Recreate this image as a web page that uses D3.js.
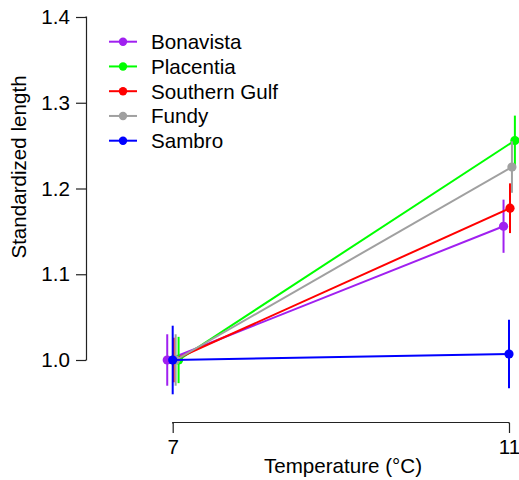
<!DOCTYPE html>
<html>
<head>
<meta charset="utf-8">
<script src="https://cdn.jsdelivr.net/npm/d3@7"></script>
<style>
  html, body { margin: 0; padding: 0; background: #fff; }
  svg { display: block; font-family: "Liberation Sans", Arial, sans-serif; }
</style>
</head>
<body>
<svg id="chart" width="519" height="480"></svg>
<script>
// ---- data ----
const temperatures = [7, 11];
const populations = ["Bonavista", "Placentia", "Southern Gulf", "Fundy", "Sambro"];
const colors = ["#A020F0", "#00FF00", "#FF0000", "#A0A0A0", "#0000FF"];
const meanBonavista = [1.000, 1.156];
const meanPlacentia = [1.000, 1.256];
const meanSouthernGulf = [1.000, 1.177];
const meanFundy = [1.000, 1.225];
const meanSambro = [1.000, 1.007];
const seBonavista = [0.030, 0.031];
const sePlacentia = [0.027, 0.029];
const seSouthernGulf = [0.026, 0.029];
const seFundy = [0.030, 0.030];
const seSambro = [0.040, 0.040];
// horizontal dodge (degrees) used to separate overlapping series
const dodge = [-0.065, 0.07, 0.012, 0.035, 0.0];
const yTicks = [1.0, 1.1, 1.2, 1.3, 1.4];

const means = [meanBonavista, meanPlacentia, meanSouthernGulf, meanFundy, meanSambro];
const ses = [seBonavista, sePlacentia, seSouthernGulf, seFundy, seSambro];

const series = populations.map((name, i) => ({
  name, color: colors[i],
  points: temperatures.map((t, j) => ({ t: t + dodge[i], m: means[i][j], se: ses[i][j] }))
}));

// ---- layout ----
const svg = d3.select("#chart");
const x = d3.scaleLinear().domain([7, 11]).range([172.7, 509]);
const y = d3.scaleLinear().domain([1.0, 1.4]).range([360, 17]);
const fontSize = 20.6;
const axisColor = "#222";

// Y axis
const yAxis = svg.append("g").attr("transform", "translate(86,0)")
  .call(d3.axisLeft(y).tickValues(yTicks).tickFormat(d3.format(".1f")).tickSize(10).tickPadding(6));
yAxis.select(".domain").attr("d", `M-0.5,${y(1.0)}H0.5V${y(1.4)}H-0.5`).attr("stroke", axisColor).attr("stroke-width", 1.2);
yAxis.selectAll(".tick line").attr("stroke", axisColor).attr("stroke-width", 1.2);
yAxis.selectAll(".tick text").attr("font-size", fontSize).attr("fill", "#000")
  .attr("font-family", "Liberation Sans, Arial, sans-serif");

// X axis
const xAxis = svg.append("g").attr("transform", "translate(0,423)")
  .call(d3.axisBottom(x).tickValues(temperatures).tickFormat(d3.format("d")).tickSize(10).tickPadding(6));
xAxis.select(".domain").attr("d", `M${x(7)},0.5V-0.5H${x(11)}V0.5`).attr("stroke", axisColor).attr("stroke-width", 1.2);
xAxis.selectAll(".tick line").attr("stroke", axisColor).attr("stroke-width", 1.2);
xAxis.selectAll(".tick text").attr("font-size", fontSize).attr("fill", "#000")
  .attr("font-family", "Liberation Sans, Arial, sans-serif");

// Axis titles
svg.append("text")
  .attr("x", 343).attr("y", 473)
  .attr("text-anchor", "middle").attr("font-size", fontSize).attr("fill", "#000")
  .text("Temperature (°C)");
svg.append("text")
  .attr("transform", "translate(26,167) rotate(-90)")
  .attr("text-anchor", "middle").attr("font-size", fontSize).attr("fill", "#000")
  .text("Standardized length");

// Series
const line = d3.line().x(d => x(d.t)).y(d => y(d.m));
const g = svg.append("g");
series.forEach(s => {
  const sg = g.append("g");
  sg.append("path").datum(s.points).attr("d", line)
    .attr("fill", "none").attr("stroke", s.color).attr("stroke-width", 2);
  sg.selectAll("line.err").data(s.points).enter().append("line")
    .attr("x1", d => x(d.t)).attr("x2", d => x(d.t))
    .attr("y1", d => y(d.m - d.se)).attr("y2", d => y(d.m + d.se))
    .attr("stroke", s.color).attr("stroke-width", 2);
  sg.selectAll("circle").data(s.points).enter().append("circle")
    .attr("cx", d => x(d.t)).attr("cy", d => y(d.m)).attr("r", 4.6)
    .attr("fill", s.color);
});

// Legend
const legend = svg.append("g");
series.forEach((s, i) => {
  const ly = 41.7 + i * 24.75;
  legend.append("line").attr("x1", 109).attr("x2", 137).attr("y1", ly).attr("y2", ly)
    .attr("stroke", s.color).attr("stroke-width", 2);
  legend.append("circle").attr("cx", 123).attr("cy", ly).attr("r", 4.2).attr("fill", s.color);
  legend.append("text").attr("x", 151).attr("y", ly).attr("dy", "0.36em")
    .attr("font-size", fontSize).attr("fill", "#000").text(s.name);
});
</script>
</body>
</html>
